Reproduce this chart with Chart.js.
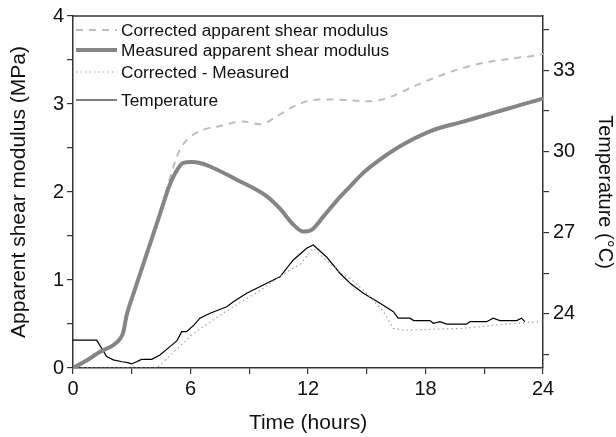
<!DOCTYPE html>
<html><head><meta charset="utf-8">
<script src="https://cdn.jsdelivr.net/npm/chart.js@4/dist/chart.umd.min.js"></script>
<style>html,body{margin:0;padding:0;background:#fff}#wrap{width:616px;height:437px}</style>
</head><body><div id="wrap"><canvas id="c" width="616" height="437"></canvas></div>
<script>
// ---- data ----
const seriesNames = ['Corrected apparent shear modulus', 'Measured apparent shear modulus', 'Corrected - Measured', 'Temperature'];

const measuredX = [0, 0.8, 1.38, 2.06, 2.4, 2.57, 2.74, 3.08, 3.59, 4.1, 4.53, 4.87, 5.21, 5.63, 6.06, 6.48, 7.0, 8.36, 9.9, 10.57, 11.25, 11.76, 12.19, 12.78, 13.46, 14.14, 14.83, 15.5, 16.7, 18.23, 19.93, 21.64, 23.17, 24];
const measuredY = [0, 0.1, 0.185, 0.26, 0.33, 0.41, 0.60, 0.84, 1.18, 1.52, 1.81, 2.04, 2.21, 2.33, 2.34, 2.33, 2.29, 2.14, 1.95, 1.81, 1.63, 1.55, 1.57, 1.72, 1.90, 2.06, 2.22, 2.34, 2.52, 2.69, 2.80, 2.91, 3.01, 3.06];

const correctedX = [0, 0.8, 1.38, 2.06, 2.4, 2.57, 2.74, 3.08, 3.59, 4.1, 4.53, 4.87, 5.46, 6.14, 6.83, 7.3, 8.7, 9.6, 10.4, 11.25, 11.93, 12.5, 13.46, 15.17, 16.2, 17.4, 19.08, 20.8, 22.5, 23.85, 24];
const correctedY = [0, 0.1, 0.185, 0.26, 0.33, 0.41, 0.60, 0.84, 1.18, 1.52, 1.81, 2.10, 2.48, 2.65, 2.72, 2.74, 2.80, 2.77, 2.86, 2.97, 3.03, 3.05, 3.05, 3.03, 3.08, 3.20, 3.35, 3.46, 3.52, 3.56, 3.57];

const diffX = [0, 4.27, 6.14, 7.85, 9.55, 10.9, 11.6, 12.27, 12.95, 13.8, 14.14, 15.0, 15.85, 16.36, 16.85, 19.9, 21.6, 24];
const diffY = [0, 0, 0.39, 0.65, 0.88, 1.09, 1.18, 1.36, 1.22, 1.06, 1.02, 0.85, 0.64, 0.45, 0.43, 0.45, 0.49, 0.53];

const tempX = [0, 1.21, 1.72, 2.06, 2.5, 2.8, 3.0, 3.5, 4.02, 4.44, 4.95, 5.3, 5.55, 5.8, 6.2, 6.48, 7.0, 7.85, 8.19, 8.87, 9.89, 10.57, 11.25, 11.93, 12.27, 12.95, 13.63, 14.2, 14.83, 15.68, 16.36, 16.6, 17.2, 17.4, 18.23, 18.4, 18.74, 19.08, 20.1, 20.27, 21.12, 21.46, 21.8, 22.66, 22.9, 23.08];
const tempY = [23.03, 23.03, 22.42, 22.3, 22.23, 22.2, 22.15, 22.32, 22.32, 22.48, 22.79, 23.0, 23.34, 23.34, 23.6, 23.84, 24.02, 24.26, 24.45, 24.76, 25.13, 25.37, 25.99, 26.42, 26.54, 26.1, 25.5, 25.1, 24.76, 24.39, 24.08, 23.84, 23.84, 23.75, 23.75, 23.65, 23.71, 23.62, 23.62, 23.71, 23.71, 23.84, 23.75, 23.75, 23.84, 23.71];

const xTicks = [0, 3, 6, 9, 12, 15, 18, 21, 24];
const xLabels = [0, 6, 12, 18, 24];
const yTicks = [0, 0.5, 1, 1.5, 2, 2.5, 3, 3.5, 4];
const yLabels = [0, 1, 2, 3, 4];
const y2Ticks = [22.5, 24, 25.5, 27, 28.5, 30, 31.5, 33, 34.5];
const y2Labels = [24, 27, 30, 33];

// ---- build ----
const pts = (xs, ys) => xs.map((x, i) => ({x: x, y: ys[i]}));
const FONT = '"Liberation Sans", Arial, sans-serif';
const tickFont = {family: FONT, size: 20};
const titleFont = {family: FONT, size: 21, lineHeight: 1};
const titleFontR = {family: FONT, size: 20, lineHeight: 1};

const legendStyles = [
  {color: '#bdbdbd', width: 2, dash: [7, 6]},
  {color: '#858585', width: 4, dash: []},
  {color: '#a0a0a0', width: 1.2, dash: [1.5, 3]},
  {color: '#000000', width: 1.2, dash: []}
];
const legendRows = [30, 50, 72, 100];

const frameLegend = {
  id: 'frameLegend',
  afterDraw(chart) {
    const c = chart.ctx, a = chart.chartArea;
    c.save();
    c.strokeStyle = '#333'; c.lineWidth = 1.5;
    c.beginPath(); c.moveTo(a.left, a.top); c.lineTo(a.right, a.top); c.stroke();
    c.font = '17.3px ' + FONT; c.fillStyle = '#111'; c.textBaseline = 'middle';
    seriesNames.forEach((name, i) => {
      const s = legendStyles[i], y = legendRows[i];
      c.strokeStyle = s.color; c.lineWidth = s.width; c.setLineDash(s.dash);
      c.beginPath(); c.moveTo(a.left + 3, y); c.lineTo(a.left + 44, y); c.stroke();
      c.setLineDash([]);
      c.fillText(name, a.left + 48, y + 1);
    });
    c.restore();
  }
};

const gridCfg = {drawOnChartArea: false, tickLength: 6, color: '#333', lineWidth: 1.2};
const borderCfg = {color: '#333', width: 1.5};

new Chart(document.getElementById('c'), {
  type: 'line',
  data: {
    datasets: [
      {label: seriesNames[1], data: pts(measuredX, measuredY), yAxisID: 'y', borderColor: '#858585', borderWidth: 4, pointRadius: 0, cubicInterpolationMode: 'monotone', borderCapStyle: 'round'},
      {label: seriesNames[0], data: pts(correctedX, correctedY), yAxisID: 'y', borderColor: '#bdbdbd', borderWidth: 2, borderDash: [7, 6], pointRadius: 0, cubicInterpolationMode: 'monotone'},
      {label: seriesNames[2], data: pts(diffX, diffY), yAxisID: 'y', borderColor: '#a0a0a0', borderWidth: 1.2, borderDash: [1.5, 3], pointRadius: 0, tension: 0},
      {label: seriesNames[3], data: pts(tempX, tempY), yAxisID: 'y2', borderColor: '#000', borderWidth: 1.2, pointRadius: 0, tension: 0}
    ]
  },
  options: {
    responsive: false, animation: false,
    layout: {padding: {top: 16, left: 0, right: 0, bottom: 0}},
    plugins: {legend: {display: false}, tooltip: {enabled: false}},
    scales: {
      x: {
        type: 'linear', min: 0, max: 24,
        afterBuildTicks: s => { s.ticks = xTicks.map(v => ({value: v})); },
        afterFit: s => { s.height = 69; },
        ticks: {callback: v => xLabels.includes(v) ? String(v) : '', font: tickFont, color: '#111', maxRotation: 0, autoSkip: false, padding: 3},
        grid: gridCfg, border: borderCfg,
        title: {display: true, text: 'Time (hours)', font: titleFont, color: '#111', padding: {top: 0, bottom: 3}}
      },
      y: {
        type: 'linear', position: 'left', min: 0, max: 4,
        afterBuildTicks: s => { s.ticks = yTicks.map(v => ({value: v})); },
        afterFit: s => { s.width = 73; },
        ticks: {callback: v => yLabels.includes(v) ? String(v) : '', font: tickFont, color: '#111', autoSkip: false, padding: 3},
        grid: gridCfg, border: borderCfg,
        title: {display: true, text: 'Apparent shear modulus (MPa)', font: titleFont, color: '#111', padding: {top: 9, bottom: 0}}
      },
      y2: {
        type: 'linear', position: 'right', min: 22, max: 35,
        afterBuildTicks: s => { s.ticks = y2Ticks.map(v => ({value: v})); },
        afterFit: s => { s.width = 73; },
        ticks: {callback: v => y2Labels.includes(v) ? String(v) : '', font: tickFont, color: '#111', autoSkip: false, padding: 4},
        grid: gridCfg, border: borderCfg,
        title: {display: true, text: 'Temperature (°C)', font: titleFontR, color: '#111', padding: {top: 1, bottom: 0}}
      }
    }
  },
  plugins: [frameLegend]
});
</script>
</body></html>
